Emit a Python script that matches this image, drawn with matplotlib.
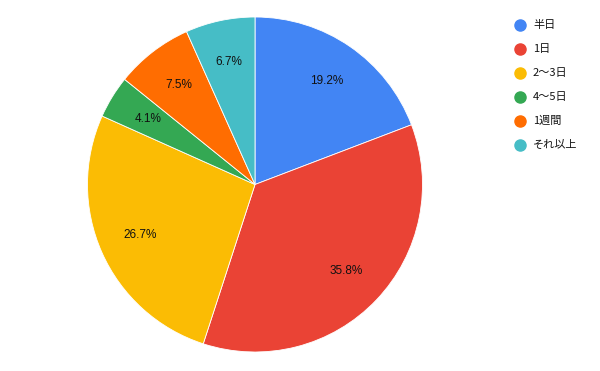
import matplotlib
matplotlib.use("Agg")
import matplotlib.pyplot as plt
from matplotlib.lines import Line2D

plt.rcParams['font.family'] = ['Liberation Sans', 'Noto Sans CJK JP', 'DejaVu Sans']

# data
labels = ['半日', '1日', '2〜3日', '4〜5日', '1週間', 'それ以上']
values = [19.2, 35.8, 26.7, 4.1, 7.5, 6.7]
colors = ['#4285F4', '#EA4335', '#FBBC04', '#34A853', '#FF6D01', '#46BDC6']

W, H = 600, 371
fig = plt.figure(figsize=(W / 100, H / 100), dpi=100)

# pie centered at (255, 184.5) px, radius 167.5 px
cx, cy, r = 255, 184.5, 167.5
ax = fig.add_axes([(cx - r) / W, 1 - (cy + r) / H, 2 * r / W, 2 * r / H])
wedges, texts, autotexts = ax.pie(
    values, colors=colors, startangle=90, counterclock=False,
    autopct='%1.1f%%', pctdistance=0.75,
    wedgeprops=dict(edgecolor='white', linewidth=0.6),
    textprops=dict(fontsize=8.5, color='#111111'))
ax.set_aspect('equal')
ax.set_xlim(-1, 1)
ax.set_ylim(-1, 1)

# legend, drawn by hand to match the spacing
for i, (lab, col) in enumerate(zip(labels, colors)):
    y = 1 - (25 + 24 * i) / H
    fig.add_artist(Line2D([520 / W], [y], marker='o', markersize=8,
                          color=col, linestyle='none', transform=fig.transFigure))
    fig.text(533 / W, y, lab, fontsize=8, va='center', ha='left', color='#111111',
             family=['Noto Sans CJK JP', 'DejaVu Sans'])

fig.savefig('out.png', dpi=100)
